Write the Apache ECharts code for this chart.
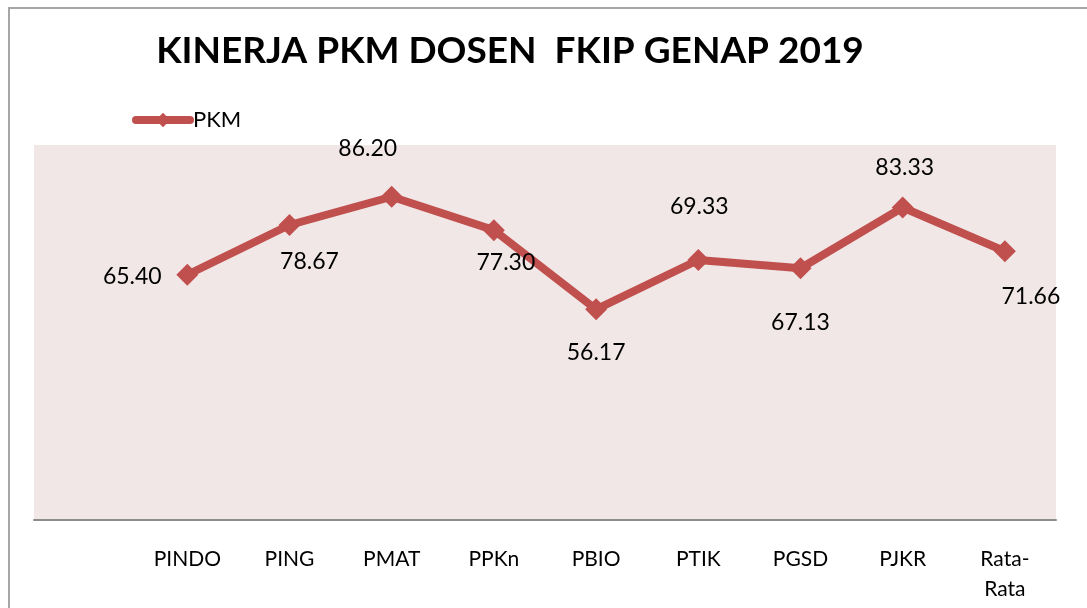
<!DOCTYPE html>
<html>
<head>
<meta charset="utf-8">
<script src="https://cdn.jsdelivr.net/npm/echarts@6/dist/echarts.min.js"></script>
<style>
  html, body { margin: 0; padding: 0; background: #fff; }
  #chart { width: 1087px; height: 608px; }
</style>
</head>
<body>
<div id="chart"></div>
<script>
// data
const categories = ['PINDO', 'PING', 'PMAT', 'PPKn', 'PBIO', 'PTIK', 'PGSD', 'PJKR', 'Rata-Rata'];
const pkmValues = [65.40, 78.67, 86.20, 77.30, 56.17, 69.33, 67.13, 83.33, 71.66];

// label offsets per point, as placed in the original
const labelOffsets = [[-55, 2], [20, 37], [-24, -48], [12, 32], [0, 43], [1, -53], [0, 54], [2, -40], [26, 45]];

const font = 'Lato, "Open Sans", sans-serif';

let myChart = echarts.init(document.getElementById('chart'));
let option = {
  backgroundColor: '#fff',
  animation: false,
  title: {
    text: 'KINERJA PKM DOSEN  FKIP GENAP 2019',
    left: 505,
    top: 28,
    textAlign: 'center',
    textStyle: { fontSize: 37, fontWeight: 'bold', color: '#000', fontFamily: font }
  },
  legend: {
    left: 127,
    top: 104,
    itemWidth: 54,
    itemHeight: 18,
    itemGap: 0,
    lineStyle: { width: 8, cap: 'round' },
    textStyle: { fontSize: 22, color: '#000', fontFamily: font, padding: [0, 0, 0, -2] },
    data: ['PKM']
  },
  graphic: [{
    type: 'rect',
    shape: { x: 9, y: 8, width: 1100, height: 620 },
    style: { fill: 'none', stroke: '#a6a6a6', lineWidth: 2 },
    silent: true
  }],
  grid: {
    left: 34,
    right: 31,
    top: 145,
    bottom: 88,
    show: true,
    backgroundColor: '#f2e7e7',
    borderWidth: 0
  },
  xAxis: {
    type: 'category',
    // first slot kept empty, as in the source chart
    data: [''].concat(categories),
    axisLine: { lineStyle: { color: '#8c8c8c', width: 2 } },
    axisTick: { show: false },
    axisLabel: {
      margin: 24,
      fontSize: 21,
      color: '#000',
      fontFamily: font,
      lineHeight: 30,
      interval: 0,
      formatter: v => v.replace('-', '-\n')
    }
  },
  yAxis: {
    type: 'value',
    min: 0,
    max: 100,
    show: false,
    splitLine: { show: false }
  },
  series: [{
    name: 'PKM',
    type: 'line',
    data: ['-'].concat(pkmValues.map((v, i) => ({
      value: v,
      label: { offset: labelOffsets[i] }
    }))),
    symbol: 'diamond',
    symbolSize: 22,
    color: '#c0504d',
    lineStyle: { width: 8, color: '#c0504d' },
    itemStyle: { color: '#c0504d' },
    label: {
      show: true,
      position: 'inside',
      formatter: p => Number(p.value).toFixed(2),
      fontSize: 23,
      color: '#000',
      fontFamily: font
    }
  }]
};
myChart.setOption(option);
</script>
</body>
</html>
